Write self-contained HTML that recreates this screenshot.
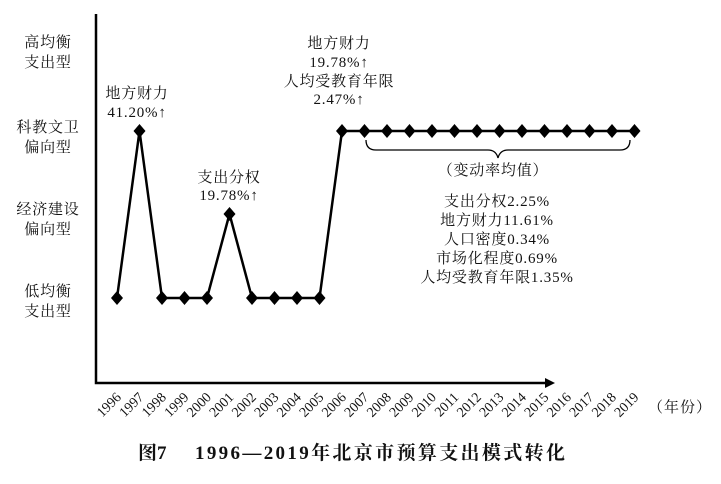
<!DOCTYPE html>
<html><head><meta charset="utf-8"><style>
body{margin:0;background:#fff}
svg text{font-family:"Liberation Serif","Noto Serif CJK SC",serif;fill:#111}
</style></head><body>
<svg width="721" height="479" viewBox="0 0 721 479" xmlns="http://www.w3.org/2000/svg">
<g font-size="15" text-anchor="middle" letter-spacing="0.8">
<text x="48" y="47">高均衡</text><text x="48" y="67">支出型</text>
<text x="48" y="132">科教文卫</text><text x="48" y="152">偏向型</text>
<text x="48" y="214">经济建设</text><text x="48" y="234">偏向型</text>
<text x="48" y="296">低均衡</text><text x="48" y="316">支出型</text>
</g>
<polyline points="96,14 96,383 548,383" fill="none" stroke="#000" stroke-width="2.5"/>
<polygon points="545,378 555,383 545,388" fill="#000"/>
<polyline fill="none" stroke="#000" stroke-width="2.5" points="117,298 139.5,131 162,298 184.5,298 207,298 229.5,214 252,298 274.5,298 297,298 319.5,298 342,131 635,131"/>
<g fill="#000">
<path d="M117 291l6 7-6 7-6-7z"/><path d="M139.5 124l6 7-6 7-6-7z"/><path d="M162 291l6 7-6 7-6-7z"/><path d="M184.5 291l6 7-6 7-6-7z"/><path d="M207 291l6 7-6 7-6-7z"/><path d="M229.5 207l6 7-6 7-6-7z"/><path d="M252 291l6 7-6 7-6-7z"/><path d="M274.5 291l6 7-6 7-6-7z"/><path d="M297 291l6 7-6 7-6-7z"/><path d="M319.5 291l6 7-6 7-6-7z"/>
<path d="M342 124l6 7-6 7-6-7z"/><path d="M364.5 124l6 7-6 7-6-7z"/><path d="M387 124l6 7-6 7-6-7z"/><path d="M409.5 124l6 7-6 7-6-7z"/><path d="M432 124l6 7-6 7-6-7z"/><path d="M454.5 124l6 7-6 7-6-7z"/><path d="M477 124l6 7-6 7-6-7z"/><path d="M499.5 124l6 7-6 7-6-7z"/><path d="M522 124l6 7-6 7-6-7z"/><path d="M544.5 124l6 7-6 7-6-7z"/><path d="M567 124l6 7-6 7-6-7z"/><path d="M589.5 124l6 7-6 7-6-7z"/><path d="M612 124l6 7-6 7-6-7z"/><path d="M634.5 124l6 7-6 7-6-7z"/>
</g>
<path d="M366,140 q0,10 10,10 L488,150 q8,0 10,8 q2,-8 10,-8 L620,150 q10,0 10,-10" fill="none" stroke="#000" stroke-width="1.3"/>
<g font-size="15" text-anchor="middle" letter-spacing="0.8">
<text x="137" y="98">地方财力</text><text x="137" y="117">41.20%↑</text>
<text x="229" y="182">支出分权</text><text x="229" y="200">19.78%↑</text>
<text x="339" y="48">地方财力</text><text x="339" y="67">19.78%↑</text>
<text x="339" y="86">人均受教育年限</text><text x="339" y="104">2.47%↑</text>
<text x="493" y="175">（变动率均值）</text>
<text x="497" y="206">支出分权2.25%</text>
<text x="497" y="225">地方财力11.61%</text>
<text x="497" y="244">人口密度0.34%</text>
<text x="497" y="263">市场化程度0.69%</text>
<text x="497" y="282">人均受教育年限1.35%</text>
</g>
<g font-size="14" text-anchor="end">
<text transform="translate(122,398) rotate(-45)">1996</text>
<text transform="translate(144.5,398) rotate(-45)">1997</text>
<text transform="translate(167,398) rotate(-45)">1998</text>
<text transform="translate(189.5,398) rotate(-45)">1999</text>
<text transform="translate(212,398) rotate(-45)">2000</text>
<text transform="translate(234.5,398) rotate(-45)">2001</text>
<text transform="translate(257,398) rotate(-45)">2002</text>
<text transform="translate(279.5,398) rotate(-45)">2003</text>
<text transform="translate(302,398) rotate(-45)">2004</text>
<text transform="translate(324.5,398) rotate(-45)">2005</text>
<text transform="translate(347,398) rotate(-45)">2006</text>
<text transform="translate(369.5,398) rotate(-45)">2007</text>
<text transform="translate(392,398) rotate(-45)">2008</text>
<text transform="translate(414.5,398) rotate(-45)">2009</text>
<text transform="translate(437,398) rotate(-45)">2010</text>
<text transform="translate(459.5,398) rotate(-45)">2011</text>
<text transform="translate(482,398) rotate(-45)">2012</text>
<text transform="translate(504.5,398) rotate(-45)">2013</text>
<text transform="translate(527,398) rotate(-45)">2014</text>
<text transform="translate(549.5,398) rotate(-45)">2015</text>
<text transform="translate(572,398) rotate(-45)">2016</text>
<text transform="translate(594.5,398) rotate(-45)">2017</text>
<text transform="translate(617,398) rotate(-45)">2018</text>
<text transform="translate(639.5,398) rotate(-45)">2019</text>
</g>
<text x="648" y="412" font-size="15" letter-spacing="1">（年份）</text>
<text x="138" y="459" font-size="19" font-weight="bold">图7</text>
<text x="195" y="459" font-size="19" font-weight="bold" textLength="370" lengthAdjust="spacing">1996—2019年北京市预算支出模式转化</text>
</svg>
</body></html>
